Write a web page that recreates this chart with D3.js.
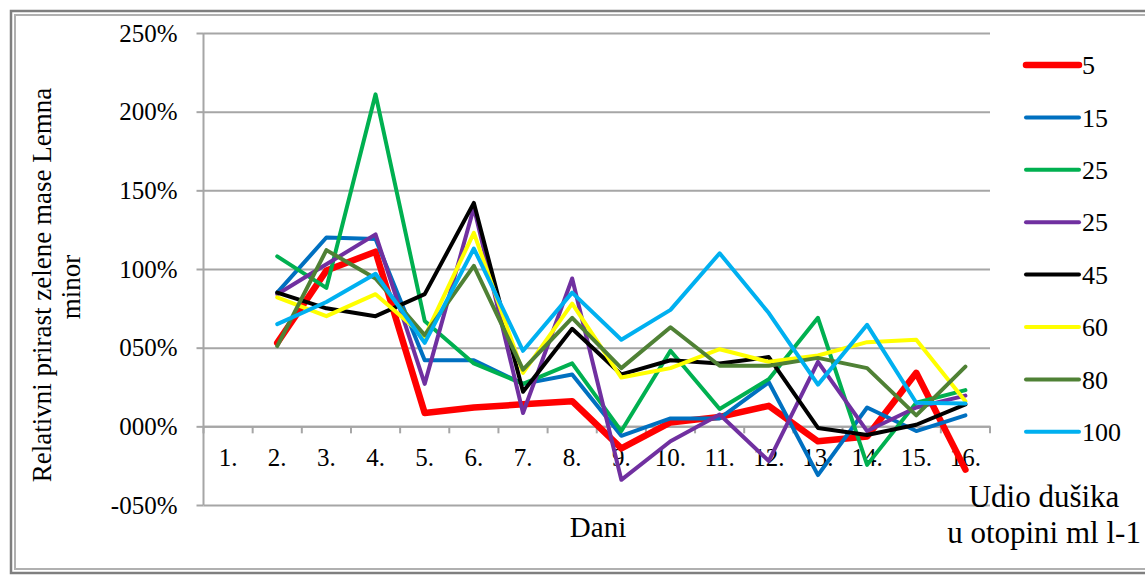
<!DOCTYPE html>
<html>
<head>
    <meta charset="utf-8">
    <title>Relativni prirast</title>
    <script src="https://d3js.org/d3.v7.min.js"></script>
    <style>
        body { margin: 0; background: #fff; }
        text { font-family: "Liberation Serif", "Times New Roman", serif; fill: #000; }
    </style>
</head>
<body>
    <script>
        // dani (x kategorije)
        var days = ["1.", "2.", "3.", "4.", "5.", "6.", "7.", "8.", "9.", "10.", "11.", "12.", "13.", "14.", "15.", "16."];
        var yTicks = [-0.5, 0, 0.5, 1, 1.5, 2, 2.5];
        var yTickLabels = ["-050%", "000%", "050%", "100%", "150%", "200%", "250%"];

        // serije (dan 1 nema vrijednost)
        var n5   = [null, 0.53, 0.99, 1.11, 0.085, 0.12, 0.14, 0.16, -0.14, 0.025, 0.06, 0.13, -0.095, -0.065, 0.34, -0.275];
        var n15  = [null, 0.85, 1.20, 1.19, 0.42, 0.42, 0.27, 0.33, -0.06, 0.05, 0.05, 0.28, -0.31, 0.12, -0.03, 0.07];
        var n25a = [null, 1.08, 0.88, 2.11, 0.67, 0.40, 0.27, 0.40, -0.03, 0.48, 0.11, 0.30, 0.69, -0.245, 0.15, 0.23];
        var n25b = [null, 0.84, 1.03, 1.22, 0.27, 1.39, 0.085, 0.94, -0.34, -0.095, 0.075, -0.22, 0.41, -0.03, 0.12, 0.195];
        var n45  = [null, 0.85, 0.75, 0.70, 0.84, 1.42, 0.22, 0.62, 0.33, 0.42, 0.40, 0.44, -0.01, -0.055, 0.01, 0.14];
        var n60  = [null, 0.82, 0.70, 0.84, 0.57, 1.23, 0.34, 0.78, 0.31, 0.37, 0.49, 0.41, 0.45, 0.535, 0.55, 0.16];
        var n80  = [null, 0.51, 1.12, 0.94, 0.58, 1.02, 0.36, 0.69, 0.37, 0.63, 0.385, 0.385, 0.435, 0.37, 0.07, 0.38];
        var n100 = [null, 0.65, 0.79, 0.97, 0.53, 1.13, 0.48, 0.85, 0.55, 0.74, 1.10, 0.72, 0.265, 0.645, 0.15, 0.145];

        var seriesNames = ["5", "15", "25", "25", "45", "60", "80", "100"];
        var seriesColors = ["#FF0000", "#0070C0", "#00B050", "#7030A0", "#000000", "#FFFF00", "#4F8135", "#00B0F0"];
        var seriesWidths = [6.5, 4, 4, 4, 4, 4, 4, 4];
        var seriesData = [n5, n15, n25a, n25b, n45, n60, n80, n100];

        var width = 1145;
        var height = 576;
        var plotL = 203.5, plotR = 990, plotT = 33, plotB = 505;

        var svg = d3.select("body").append("svg")
            .attr("width", width)
            .attr("height", height);

        // okvir
        svg.append("rect")
            .attr("x", 11).attr("y", 11)
            .attr("width", 1150).attr("height", 562)
            .attr("fill", "none")
            .attr("stroke", "#7f7f7f")
            .attr("stroke-width", 2.5);
        svg.append("rect")
            .attr("x", 15).attr("y", 15)
            .attr("width", 1150).attr("height", 554)
            .attr("fill", "none")
            .attr("stroke", "#b0b0b0")
            .attr("stroke-width", 2);

        var x = d3.scaleBand()
            .domain(days)
            .range([plotL, plotR]);
        var bw = x.bandwidth();

        var y = d3.scaleLinear()
            .domain([-0.5, 2.5])
            .range([plotB, plotT]);

        // mreza
        var grid = svg.append("g")
            .attr("transform", "translate(" + plotL + ",0)")
            .call(d3.axisLeft(y).tickValues(yTicks).tickSize(-(plotR - plotL)).tickFormat(""));
        grid.select(".domain").remove();
        grid.selectAll("line").attr("stroke", "#a6a6a6").attr("stroke-width", 2);

        // y os
        var yAxis = svg.append("g")
            .attr("transform", "translate(" + plotL + ",0)")
            .call(d3.axisLeft(y)
                .tickValues(yTicks)
                .tickSize(7)
                .tickPadding(19)
                .tickFormat(function(d, i) { return yTickLabels[i]; }));
        yAxis.select(".domain").attr("stroke", "#a6a6a6").attr("stroke-width", 2).attr("d", "M0," + plotT + "V" + plotB);
        yAxis.selectAll("line").attr("stroke", "#a6a6a6").attr("stroke-width", 2);
        yAxis.selectAll("text")
            .style("font-family", "'Liberation Serif', serif")
            .style("font-size", "25px");

        // x os na nuli
        var xAxis = svg.append("g")
            .attr("transform", "translate(0," + y(0) + ")")
            .call(d3.axisBottom(x).tickSize(0).tickPadding(22));
        xAxis.select(".domain").attr("stroke", "#a6a6a6").attr("stroke-width", 2);
        xAxis.selectAll("text")
            .style("font-family", "'Liberation Serif', serif")
            .style("font-size", "25px");
        xAxis.selectAll("line.boundary")
            .data(days.concat(["end"]))
            .enter()
            .append("line")
            .attr("class", "boundary")
            .attr("x1", function(d, i) { return plotL + i * bw; })
            .attr("x2", function(d, i) { return plotL + i * bw; })
            .attr("y1", 0)
            .attr("y2", 7)
            .attr("stroke", "#a6a6a6")
            .attr("stroke-width", 2);

        // linije
        var line = d3.line()
            .defined(function(d) { return d != null; })
            .x(function(d, i) { return x(days[i]) + bw / 2; })
            .y(function(d) { return y(d); });

        svg.append("g").selectAll("path.series")
            .data(seriesData)
            .enter()
            .append("path")
            .attr("class", "series")
            .attr("d", line)
            .attr("fill", "none")
            .attr("stroke", function(d, i) { return seriesColors[i]; })
            .attr("stroke-width", function(d, i) { return seriesWidths[i]; })
            .attr("stroke-linejoin", "round")
            .attr("stroke-linecap", "round");

        // legenda
        var legend = svg.append("g").selectAll("g")
            .data(seriesNames)
            .enter()
            .append("g")
            .attr("transform", function(d, i) { return "translate(1026," + (65 + i * 52.4) + ")"; });
        legend.append("line")
            .attr("x1", 0).attr("x2", 53)
            .attr("stroke", function(d, i) { return seriesColors[i]; })
            .attr("stroke-width", function(d, i) { return seriesWidths[i]; })
            .attr("stroke-linecap", "round");
        legend.append("text")
            .attr("x", 56)
            .attr("dy", "0.35em")
            .style("font-size", "26px")
            .text(function(d) { return d; });

        // naslovi osi
        svg.append("text")
            .attr("transform", "translate(51,285)rotate(-90)")
            .attr("text-anchor", "middle")
            .style("font-size", "27px")
            .text("Relativni prirast zelene mase Lemna");
        svg.append("text")
            .attr("transform", "translate(80,287)rotate(-90)")
            .attr("text-anchor", "middle")
            .style("font-size", "27px")
            .text("minor");

        svg.append("text")
            .attr("x", 598).attr("y", 537)
            .attr("text-anchor", "middle")
            .style("font-size", "29px")
            .text("Dani");

        svg.append("text")
            .attr("x", 1044).attr("y", 507)
            .attr("text-anchor", "middle")
            .style("font-size", "31px")
            .text("Udio dušika");
        svg.append("text")
            .attr("x", 1044).attr("y", 543)
            .attr("text-anchor", "middle")
            .style("font-size", "31px")
            .text("u otopini ml l-1");
    </script>
</body>
</html>
